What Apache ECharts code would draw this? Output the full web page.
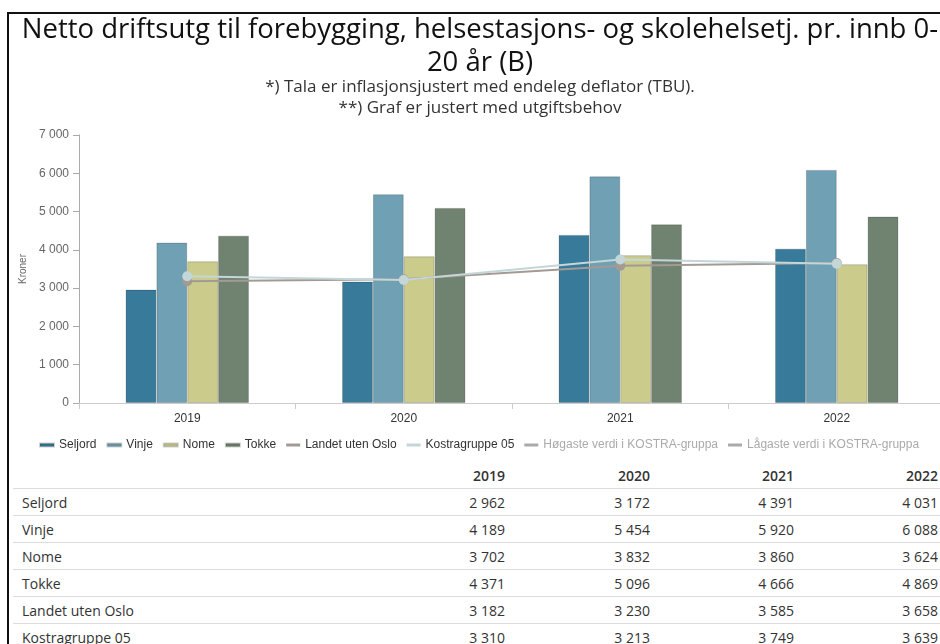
<!DOCTYPE html>
<html>
<head>
<meta charset="utf-8">
<script src="https://cdn.jsdelivr.net/npm/echarts@6/dist/echarts.min.js"></script>
<style>
  html, body { margin: 0; padding: 0; background: #fff; width: 940px; height: 644px; overflow: hidden; position: relative; }
  #frame { position: absolute; left: 7px; top: 12px; width: 960px; height: 660px; border-left: 2px solid #111; border-top: 2px solid #111; }
  #chart { position: absolute; left: 10px; top: 0; width: 940px; height: 460px; }
  #table { position: absolute; left: 13px; top: 462px; width: 927px; border-collapse: collapse; table-layout: fixed;
           font-family: "Open Sans", sans-serif; font-size: 14px; color: #333; }
  #table td, #table th { height: 26px; padding: 0; border-bottom: 1px solid #dcdcdc; white-space: nowrap; }
  #table th { font-weight: 600; text-align: right; }
  #table td { text-align: right; }
  #table td.name { text-align: left; padding-left: 9px; }
  #table .last { padding-right: 2px; }
</style>
</head>
<body>
<div id="frame"></div>
<div id="chart"></div>
<table id="table"></table>
<script>
const years = ["2019", "2020", "2021", "2022"]
const seljord = [2962, 3172, 4391, 4031]
const vinje = [4189, 5454, 5920, 6088]
const nome = [3702, 3832, 3860, 3624]
const tokke = [4371, 5096, 4666, 4869]
const landet = [3182, 3230, 3585, 3658]
const kostra = [3310, 3213, 3749, 3639]

const fmt = v => String(v).replace(/\B(?=(\d{3})+(?!\d))/g, "\u00a0")

// table under the chart
const rows = [
  ["Seljord", seljord],
  ["Vinje", vinje],
  ["Nome", nome],
  ["Tokke", tokke],
  ["Landet uten Oslo", landet],
  ["Kostragruppe 05", kostra]
]
let html = '<colgroup><col style="width:347px"><col style="width:145px"><col style="width:145px"><col style="width:144px"><col style="width:146px"></colgroup>'
html += "<tr><th></th>" + years.map((y, i) => `<th class="${i === 3 ? "last" : ""}">${y}</th>`).join("") + "</tr>"
rows.forEach(([name, vals]) => {
  html += `<tr><td class="name">${name}</td>` + vals.map((v, i) => `<td class="${i === 3 ? "last" : ""}">${fmt(v)}</td>`).join("") + "</tr>"
})
document.getElementById("table").innerHTML = html

const chart = echarts.init(document.getElementById("chart"), null, { renderer: "canvas" })

const barBase = {
  type: "bar",
  barGap: "0%",
  barCategoryGap: "43%",
  itemStyle: { borderColor: "rgba(0,0,0,0.18)", borderWidth: 1 }
}

chart.setOption({
  animation: false,
  textStyle: { fontFamily: "Liberation Sans" },
  title: [
    {
      text: "Netto driftsutg til forebygging, helsestasjons- og skolehelsetj. pr. innb 0-\n20 år (B)",
      left: "center",
      top: 14,
      padding: 0,
      textStyle: { fontFamily: "Open Sans", fontSize: 27.5, fontWeight: "normal", color: "#111", lineHeight: 33 }
    },
    {
      text: "*) Tala er inflasjonsjustert med endeleg deflator (TBU).\n**) Graf er justert med utgiftsbehov",
      left: "center",
      top: 77,
      padding: 0,
      textStyle: { fontFamily: "Open Sans", fontSize: 17, fontWeight: "normal", color: "#333", lineHeight: 21 }
    }
  ],
  color: ["#377a9a", "#6fa0b4", "#cbcb8c", "#708270", "#a39a93", "#c3d6d8", "#999999", "#888888"],
  grid: { left: 68, right: 5, top: 135, bottom: 57 },
  legend: {
    left: 24,
    top: 434,
    icon: "rect",
    itemWidth: 14,
    itemHeight: 3,
    itemGap: 10,
    inactiveColor: "#aaaaaa",
    textStyle: { fontSize: 12, color: "#333" },
    selected: {
      "Høgaste verdi i KOSTRA-gruppa": false,
      "Lågaste verdi i KOSTRA-gruppa": false
    }
  },
  xAxis: {
    type: "category",
    data: years,
    axisLine: { lineStyle: { color: "#cccccc" } },
    axisTick: { show: true, length: 6, lineStyle: { color: "#cccccc" } },
    axisLabel: { color: "#333", fontSize: 12, margin: 10 }
  },
  yAxis: {
    type: "value",
    min: 0,
    max: 7000,
    interval: 1000,
    name: "Kroner",
    nameLocation: "middle",
    nameGap: 51,
    nameTextStyle: { color: "#666", fontSize: 10 },
    axisLine: { show: true, lineStyle: { color: "#aaaaaa" } },
    axisTick: { show: true, length: 6, lineStyle: { color: "#aaaaaa" } },
    axisLabel: { color: "#666", fontSize: 12, margin: 10, formatter: v => fmt(v).replace("\u00a0", " ") },
    splitLine: { show: false }
  },
  series: [
    { ...barBase, name: "Seljord", data: seljord },
    { ...barBase, name: "Vinje", data: vinje },
    { ...barBase, name: "Nome", data: nome },
    { ...barBase, name: "Tokke", data: tokke },
    {
      name: "Landet uten Oslo",
      type: "line",
      data: landet,
      symbol: "circle",
      symbolSize: 10,
      lineStyle: { width: 2 },
      z: 3
    },
    {
      name: "Kostragruppe 05",
      type: "line",
      data: kostra,
      symbol: "circle",
      symbolSize: 10,
      lineStyle: { width: 2 },
      z: 4
    },
    { name: "Høgaste verdi i KOSTRA-gruppa", type: "line", data: [] },
    { name: "Lågaste verdi i KOSTRA-gruppa", type: "line", data: [] }
  ]
})
</script>
</body>
</html>
